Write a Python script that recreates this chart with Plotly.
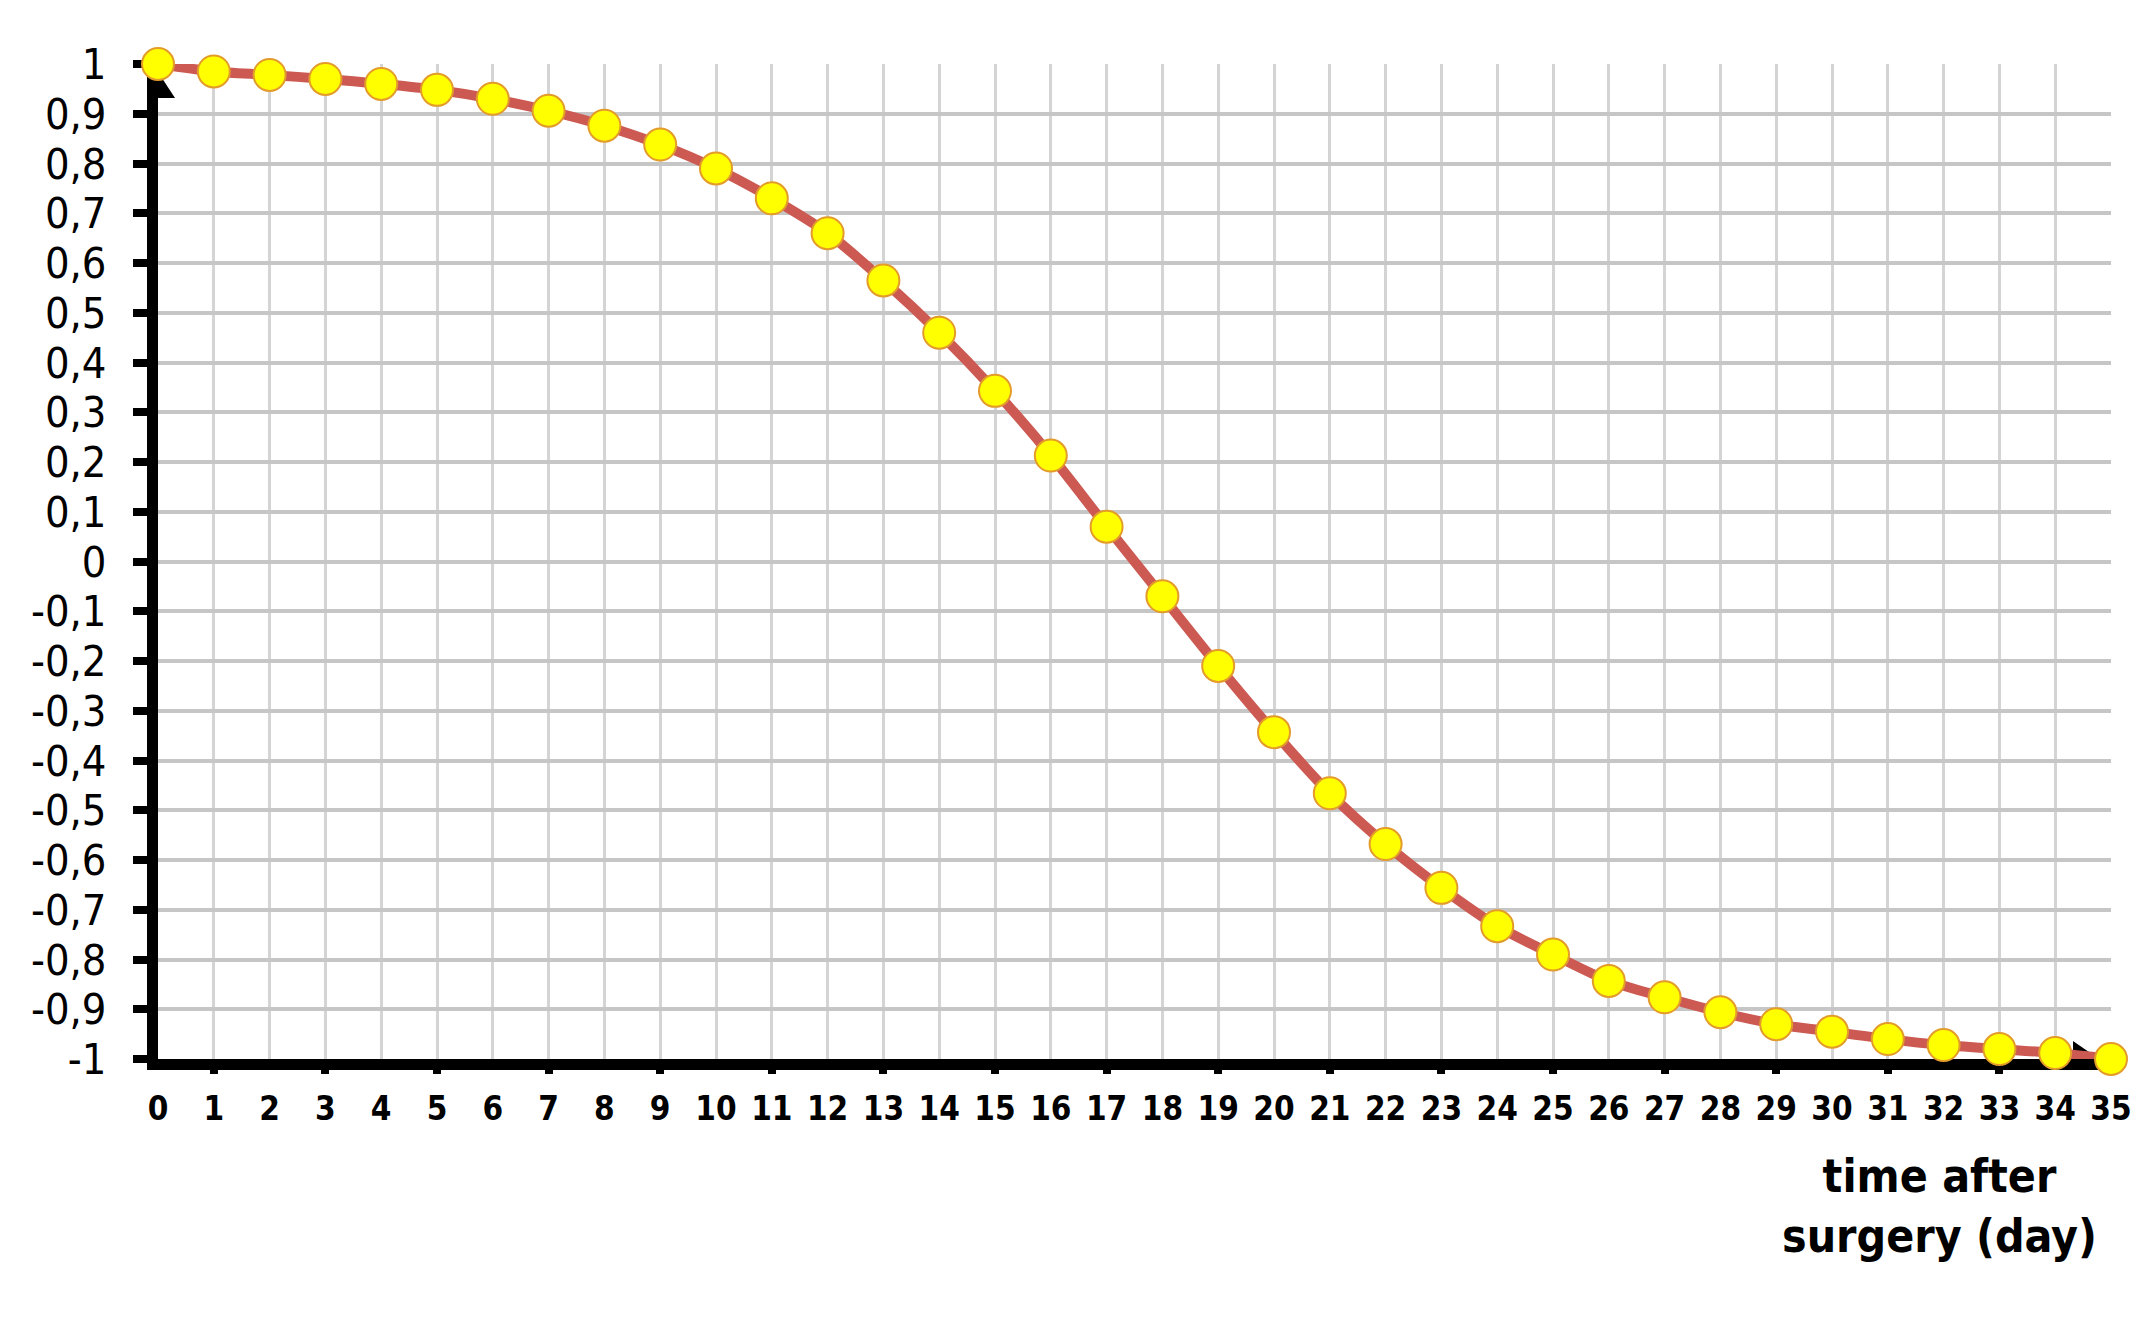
import plotly.graph_objects as go

days = list(range(0, 36))
values = [1.0, 0.985, 0.978, 0.97, 0.96, 0.948, 0.93, 0.906, 0.876, 0.838,
          0.79, 0.73, 0.66, 0.565, 0.46, 0.343, 0.213, 0.07, -0.07, -0.21,
          -0.343, -0.466, -0.568, -0.656, -0.733, -0.79, -0.843, -0.876, -0.906, -0.93,
          -0.945, -0.96, -0.972, -0.98, -0.988, -1.0]

y_tick_vals = [round(1 - 0.1 * i, 1) for i in range(21)]
y_tick_text = ["1", "0,9", "0,8", "0,7", "0,6", "0,5", "0,4", "0,3", "0,2", "0,1", "0",
               "-0,1", "-0,2", "-0,3", "-0,4", "-0,5", "-0,6", "-0,7", "-0,8", "-0,9", "-1"]
x_tick_text = [str(d) for d in days]
x_mark_vals = [d for d in days if d % 2 == 1]
x_title = "time after<br>surgery (day)"

FONT = "Liberation Sans Narrow, DejaVu Sans Condensed, Arial Narrow, sans-serif"

fig = go.Figure()
fig.add_trace(go.Scatter(
    x=days, y=values, mode="lines+markers",
    line=dict(color="#cc5a52", width=10, shape="spline", smoothing=0.8),
    marker=dict(size=32, color="#ffff00", line=dict(color="#e39b2a", width=2)),
    cliponaxis=False, showlegend=False, hoverinfo="x+y",
))
# invisible trace to create the overlay axis for odd-day tick marks
fig.add_trace(go.Scatter(
    x=days, y=values, xaxis="x2", mode="markers",
    marker=dict(opacity=0), showlegend=False, hoverinfo="skip",
))

fig.update_layout(
    width=2152, height=1323,
    margin=dict(l=150, r=49, t=56, b=272),
    paper_bgcolor="white", plot_bgcolor="white",
    font=dict(family=FONT, color="black"),
    xaxis=dict(
        range=[0, 35], tickmode="array", tickvals=days, ticktext=x_tick_text,
        ticks="", showgrid=True, gridcolor="#d4d4d4", gridwidth=3,
        zeroline=False, showline=True, linecolor="black", linewidth=11,
        layer="below traces", automargin=False,
        tickfont=dict(family=FONT, size=33, color="black", weight="bold"),
        ticklabelstandoff=10,
    ),
    xaxis2=dict(
        range=[0, 35], overlaying="x", anchor="y", side="bottom",
        tickmode="array", tickvals=x_mark_vals, ticktext=["" for _ in x_mark_vals],
        ticks="outside", ticklen=14, tickwidth=8, tickcolor="black",
        showgrid=False, zeroline=False, showline=False, layer="below traces",
        automargin=False,
    ),
    yaxis=dict(
        range=[-1, 1], tickmode="array", tickvals=y_tick_vals, ticktext=y_tick_text,
        ticks="outside", ticklen=14, tickwidth=8, tickcolor="black",
        showgrid=True, gridcolor="#c6c6c6", gridwidth=4,
        zeroline=False, showline=True, linecolor="black", linewidth=11,
        layer="below traces", automargin=False,
        tickfont=dict(family=FONT, size=43, color="black"),
        ticklabelstandoff=18,
    ),
    shapes=[
        dict(type="path", xref="x", yref="y", xsizemode="pixel", ysizemode="pixel",
             xanchor=0, yanchor=1, path="M -17,-34 L 17,-34 L 0,-8 Z",
             fillcolor="black", line=dict(width=0), layer="between"),
        dict(type="path", xref="x", yref="y", xsizemode="pixel", ysizemode="pixel",
             xanchor=35, yanchor=-1, path="M -38,18 L -38,-18 L -12,0 Z",
             fillcolor="black", line=dict(width=0), layer="between"),
    ],
    annotations=[
        dict(text=x_title, xref="paper", yref="paper", x=0.912, y=-0.148,
             xanchor="center", yanchor="middle", showarrow=False, align="center",
             font=dict(family=FONT, size=46, color="black", weight="bold")),
    ],
)

fig.write_html("out.html")
